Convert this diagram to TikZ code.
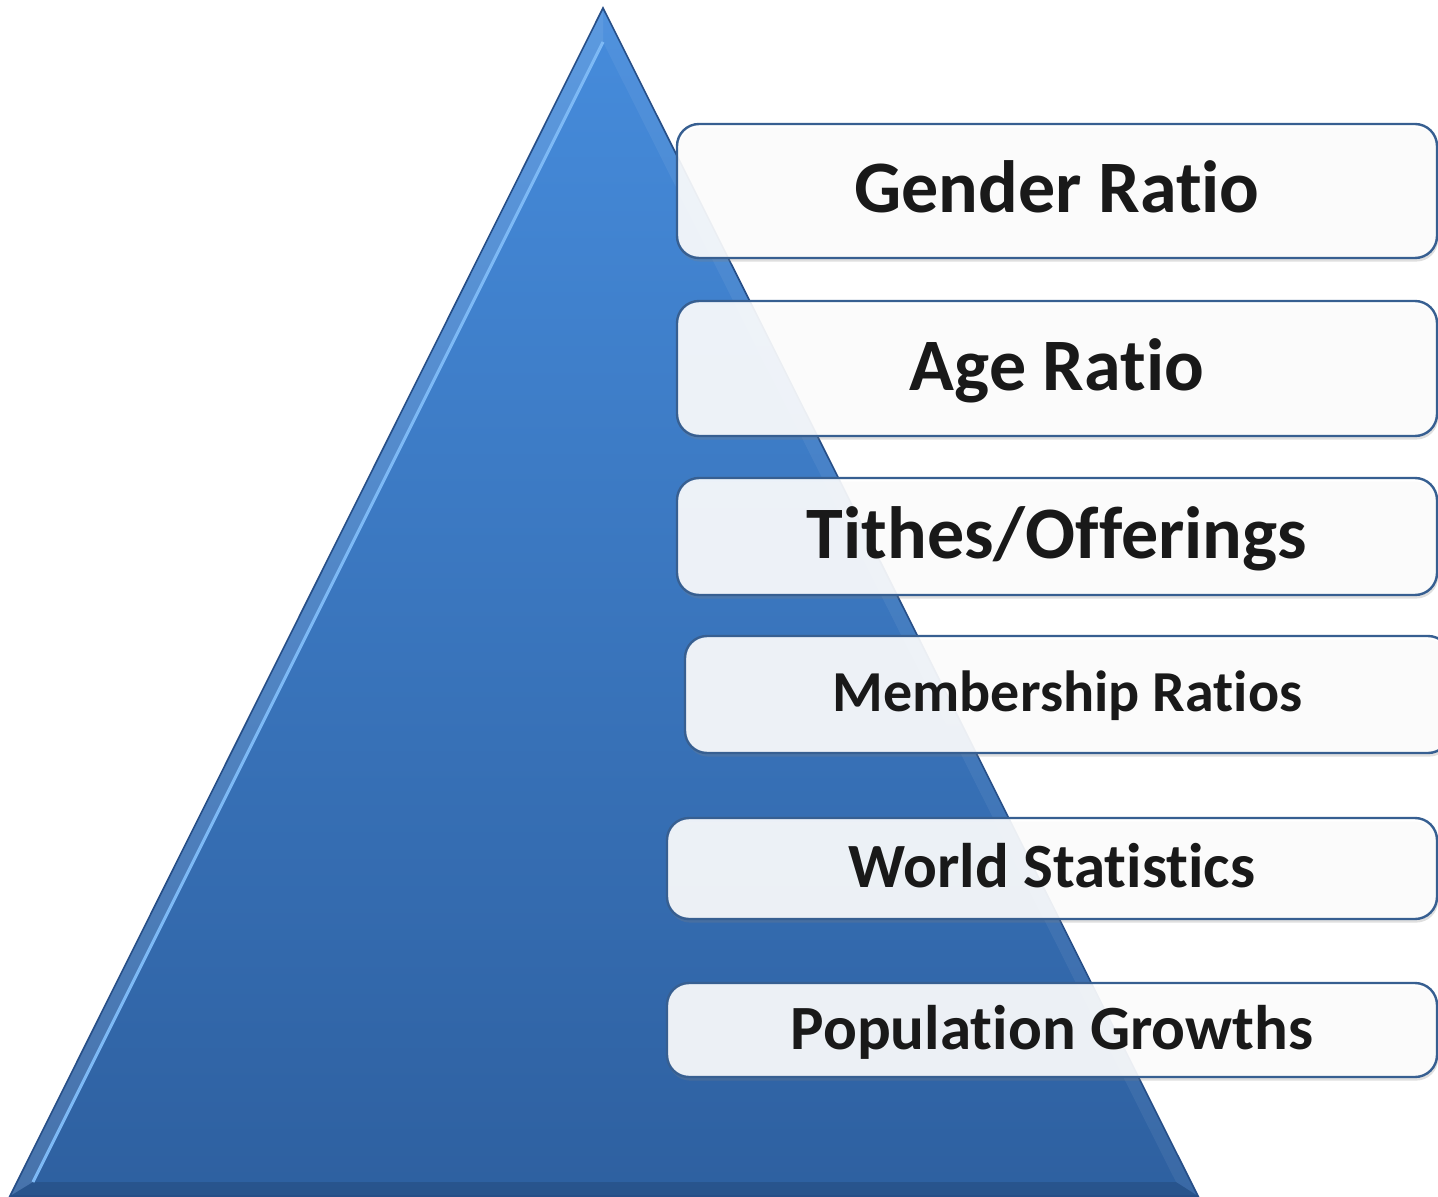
\documentclass[tikz,border=0pt]{standalone}
\usepackage{fontspec}
\setmainfont[Ligatures=NoCommon]{Carlito}
\usetikzlibrary{shadows}
\definecolor{pyrtop}{RGB}{70,140,220}
\definecolor{pyrbot}{RGB}{46,96,160}
\definecolor{pyredge}{RGB}{38,78,135}
\definecolor{pyrlight}{RGB}{125,185,245}
\definecolor{boxedge}{RGB}{55,95,145}
\definecolor{labeltext}{RGB}{25,25,25}
\begin{document}
\begin{tikzpicture}[x=0.5pt,y=-0.5pt,
  bar/.style={draw=boxedge,line width=1.2pt,rounded corners=11pt,fill=white,fill opacity=0.9,
    text opacity=1,text=labeltext,minimum width=380pt,inner sep=0pt,
    drop shadow={shadow xshift=0.6pt,shadow yshift=-1.8pt,opacity=0.25}},
  big/.style={font=\bfseries\fontsize{37}{44}\selectfont,text height=30pt,text depth=8pt},
  mid/.style={font=\bfseries\fontsize{29}{35}\selectfont,text height=23pt,text depth=5.6pt},
  small/.style={font=\bfseries\fontsize{31.5}{38}\selectfont,text height=25pt,text depth=6pt}]
\useasboundingbox (0,0) rectangle (1438,1197);
\clip (0,0) rectangle (1438,1197);
\coordinate (apex) at (603,8);
\coordinate (bl) at (10,1196);
\coordinate (br) at (1198,1196);
\coordinate (ia) at (603,42);
\coordinate (ibl) at (33,1182);
\coordinate (ibr) at (1176,1182);
\shade[top color=pyrtop,bottom color=pyrbot] (apex) -- (br) -- (bl) -- cycle;
\fill[white,opacity=0.12] (apex) -- (ia) -- (ibl) -- (bl) -- cycle;
\fill[white,opacity=0.06] (apex) -- (ia) -- (ibr) -- (br) -- cycle;
\fill[black,opacity=0.12] (bl) -- (ibl) -- (ibr) -- (br) -- cycle;
\draw[pyrlight,line width=1.5pt] (ibl) -- (ia);
\draw[pyredge,line width=0.8pt] (apex) -- (br) -- (bl) -- cycle;
\node[bar,big,minimum height=67pt] (gender) at (1057,191) {Gender Ratio};
\node[bar,big,minimum height=67.5pt] (age) at (1057,368.5) {Age Ratio};
\node[bar,big,minimum height=58.5pt] (tithes) at (1057,536.5) {Tithes/Offerings};
\node[bar,mid,minimum width=382.5pt,minimum height=58.5pt] (member) at (1067.5,694.5) {Membership Ratios};
\node[bar,small,minimum width=385pt,minimum height=50.5pt] (world) at (1052,868.5) {World Statistics};
\node[bar,small,minimum width=385pt,minimum height=47pt] (growth) at (1052,1030) {Population Growths};
\end{tikzpicture}
\end{document}
